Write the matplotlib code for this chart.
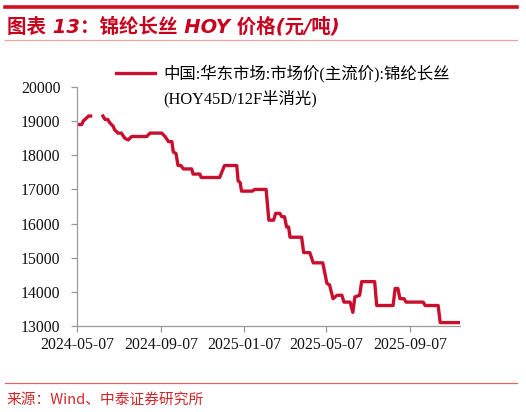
import matplotlib
matplotlib.use("Agg")
import matplotlib.pyplot as plt
import matplotlib.dates as mdates
from matplotlib.lines import Line2D
import numpy as np
import pandas as pd

# breakpoints of the price series, None = no data
dates = ["2024-05-07", "2024-05-14", "2024-05-16", "2024-05-24", "2024-05-27",
         "2024-06-05",
         "2024-06-14", "2024-06-17", "2024-06-21", "2024-06-24", "2024-06-29",
         "2024-07-01", "2024-07-06", "2024-07-11", "2024-07-16", "2024-07-21",
         "2024-07-26", "2024-08-17", "2024-08-22", "2024-09-08", "2024-09-13",
         "2024-09-18", "2024-09-23", "2024-09-25", "2024-09-29", "2024-10-02",
         "2024-10-06", "2024-10-10", "2024-10-22", "2024-10-24", "2024-11-03",
         "2024-11-05", "2024-12-02", "2024-12-05", "2024-12-09", "2024-12-27",
         "2024-12-29", "2025-01-01", "2025-01-03", "2025-01-19", "2025-01-22",
         "2025-02-08", "2025-02-12", "2025-02-19", "2025-02-22", "2025-02-28",
         "2025-03-03", "2025-03-07", "2025-03-10", "2025-03-13", "2025-03-15",
         "2025-04-01", "2025-04-04", "2025-04-13", "2025-04-18", "2025-05-02",
         "2025-05-08", "2025-05-12", "2025-05-17", "2025-05-23", "2025-05-30",
         "2025-06-02", "2025-06-11", "2025-06-15", "2025-06-18", "2025-06-25",
         "2025-06-28", "2025-07-17", "2025-07-20", "2025-08-13", "2025-08-16",
         "2025-08-20", "2025-08-23", "2025-08-29", "2025-09-01", "2025-09-26",
         "2025-09-29", "2025-10-18", "2025-10-21", "2025-11-19"]
prices = [18900, 18900, 19000, 19150, 19150,
          None,
          19150, 19050, 19050, 18950, 18850,
          18750, 18650, 18650, 18500, 18450,
          18550, 18550, 18650, 18650, 18550,
          18400, 18400, 18100, 18050, 17700,
          17700, 17600, 17600, 17450, 17450,
          17350, 17350, 17500, 17700, 17700,
          17250, 17200, 16950, 16950, 17000,
          17000, 16100, 16100, 16300, 16300,
          16200, 16200, 15900, 15900, 15600,
          15600, 15150, 15150, 14850, 14850,
          14250, 14200, 13800, 13900, 13900,
          13700, 13700, 13400, 13850, 13900,
          14300, 14300, 13600, 13600, 14100,
          14100, 13800, 13800, 13700, 13700,
          13600, 13600, 13100, 13100]
tick_dates = ["2024-05-07", "2024-09-07", "2025-01-07", "2025-05-07", "2025-09-07"]
y_ticks = [13000, 14000, 15000, 16000, 17000, 18000, 19000, 20000]

series_label = "中国:华东市场:市场价(主流价):锦纶长丝"
series_label2 = "(HOY45D/12F半消光)"
title = "图表 13：锦纶长丝 HOY 价格(元/吨)"
source = "来源：Wind、中泰证券研究所"

red = "#C8102E"
serif = ["Liberation Serif", "Noto Sans CJK SC"]

x = pd.to_datetime(dates)
y = np.array([np.nan if p is None else p for p in prices], dtype=float)

fig = plt.figure(figsize=(5.26, 4.12), dpi=100)
ax = fig.add_axes([77 / 526, 1 - 326 / 412, 383 / 526, 239 / 412])

line, = ax.plot(x, y, color=red, lw=2.4, solid_joinstyle="round")

ax.set_ylim(13000, 20000)
ax.set_xlim(pd.Timestamp("2024-05-07"), pd.Timestamp("2025-11-19"))
ax.set_yticks(y_ticks)
ax.set_xticks(pd.to_datetime(tick_dates))
ax.xaxis.set_major_formatter(mdates.DateFormatter("%Y-%m-%d"))

for s in ["top", "right"]:
    ax.spines[s].set_visible(False)
for s in ["left", "bottom"]:
    ax.spines[s].set_color("#999999")
    ax.spines[s].set_linewidth(0.9)
ax.tick_params(axis="both", direction="out", length=4, width=0.9, color="#999999")
ax.tick_params(axis="y", pad=8)
ax.tick_params(axis="x", pad=4)
for lab in ax.get_xticklabels() + ax.get_yticklabels():
    lab.set_family(serif)
    lab.set_fontsize(11.3)
    lab.set_color("#111111")

blank = Line2D([], [], color="none")
fig.legend([line, blank], [series_label, series_label2],
           loc="upper left", bbox_to_anchor=(116 / 526, 1 - 65 / 412),
           frameon=False, borderpad=0, borderaxespad=0,
           handlelength=2.4, handletextpad=0.5, labelspacing=0.45,
           prop={"family": serif, "size": 11.8})

# header and footer
fig.add_artist(Line2D([5 / 526, 517 / 526], [1 - 7 / 412] * 2, color="#D0101E", lw=2.6))
fig.add_artist(Line2D([5 / 526, 517 / 526], [1 - 40 / 412] * 2, color="#EBA3A3", lw=0.9))
fig.add_artist(Line2D([5 / 526, 517 / 526], [1 - 383 / 412] * 2, color="#E06666", lw=0.9))
fig.text(7 / 526, 1 - 27 / 412, title, color="#C8001E", fontsize=14,
         fontweight="bold", style="italic", va="center",
         family=["DejaVu Sans", "Noto Sans CJK SC"])
fig.text(7 / 526, 1 - 400 / 412, source, color="#D02828", fontsize=10.6,
         va="center", family=["Noto Sans CJK SC", "DejaVu Sans"])

fig.savefig("out.png", dpi=100)
